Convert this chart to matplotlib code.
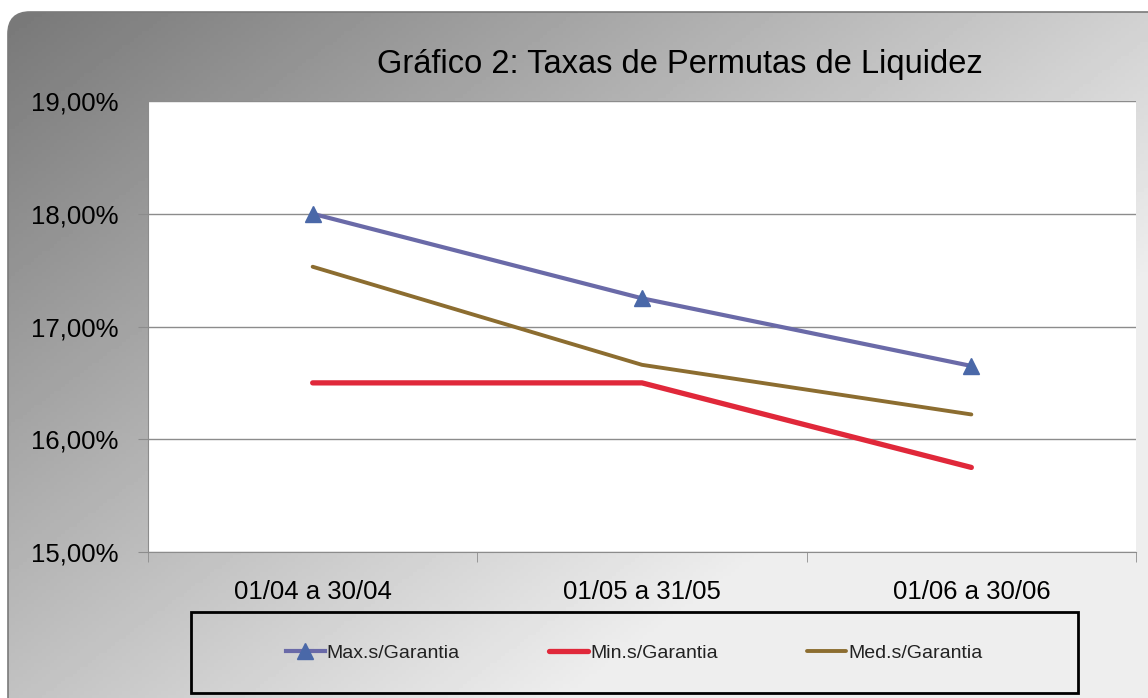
import numpy as np
import matplotlib.pyplot as plt
from matplotlib.patches import FancyBboxPatch, Rectangle
from matplotlib.ticker import FuncFormatter

plt.rcParams['font.family'] = ['Liberation Sans', 'DejaVu Sans']

# data
periodos = ['01/04 a 30/04', '01/05 a 31/05', '01/06 a 30/06']
max_garantia = [18.00, 17.25, 16.65]
min_garantia = [16.50, 16.50, 15.75]
med_garantia = [17.53, 16.66, 16.22]

W, H = 1148, 698
fig = plt.figure(figsize=(W / 100, H / 100), dpi=100)

# background with rounded frame and gradient
bg = fig.add_axes([0, 0, 1, 1])
bg.set_xlim(0, W)
bg.set_ylim(H, 0)
bg.axis('off')
xx, yy = np.meshgrid(np.linspace(0, 1, 300), np.linspace(0, 1, 200))
grad = np.clip(118 + 90 * xx + 75 * yy, 0, 238) / 255
img = bg.imshow(grad, cmap='gray', vmin=0, vmax=1, extent=[0, W, H, 0], aspect='auto')
frame = FancyBboxPatch((8, 12), W + 40, H + 40, boxstyle='round,pad=0,rounding_size=22',
                       facecolor='none', edgecolor='#7a7a7a', lw=1.2)
bg.add_patch(frame)
img.set_clip_path(frame)
# legend box
bg.add_patch(Rectangle((191, 612), 887, 81, facecolor='none', edgecolor='black', lw=2))

ax = fig.add_axes([148 / W, (H - 552) / H, 988 / W, 451 / H])
ax.set_facecolor('white')
x = np.arange(len(periodos))

ax.plot(x, max_garantia, color='#6a6aa8', lw=3.0, marker='^', markersize=12,
        markerfacecolor='#4a68a8', markeredgecolor='#4a68a8', label='Max.s/Garantia', zorder=4)
ax.plot(x, min_garantia, color='#e0283a', lw=3.8, solid_capstyle='round',
        label='Min.s/Garantia', zorder=3)
ax.plot(x, med_garantia, color='#8c6d30', lw=2.8, solid_capstyle='round',
        label='Med.s/Garantia', zorder=3)

ax.set_xlim(-0.5, 2.5)
ax.set_ylim(15, 19)
ax.set_yticks([15, 16, 17, 18, 19])
ax.yaxis.set_major_formatter(FuncFormatter(lambda v, p: f'{v:.2f}'.replace('.', ',') + '%'))
ax.grid(axis='y', color='#8c8c8c', lw=1.0)
ax.set_axisbelow(True)
ax.set_xticks(x)
ax.set_xticklabels(periodos)
ax.set_xticks([-0.5, 0.5, 1.5, 2.5], minor=True)
ax.tick_params(axis='x', which='major', length=0, pad=20, labelsize=18.5)
ax.tick_params(axis='x', which='minor', length=7, color='#8c8c8c')
ax.tick_params(axis='y', length=7, color='#8c8c8c', pad=14, labelsize=18.5)
for s in ['top', 'right']:
    ax.spines[s].set_visible(False)
for s in ['left', 'bottom']:
    ax.spines[s].set_color('#8c8c8c')

fig.text(680 / W, 1 - 64 / H, 'Gráfico 2: Taxas de Permutas de Liquidez',
         ha='center', va='center', fontsize=23.5)

leg = ax.legend(loc='center', bbox_to_anchor=(634 / W, 1 - 653 / H),
                bbox_transform=fig.transFigure, ncol=3, fontsize=14,
                handlelength=2.0, handletextpad=0.1, columnspacing=4.6,
                frameon=False, borderaxespad=0)
for t in leg.get_texts():
    t.set_color('#222222')

fig.savefig('out.png', dpi=100)
